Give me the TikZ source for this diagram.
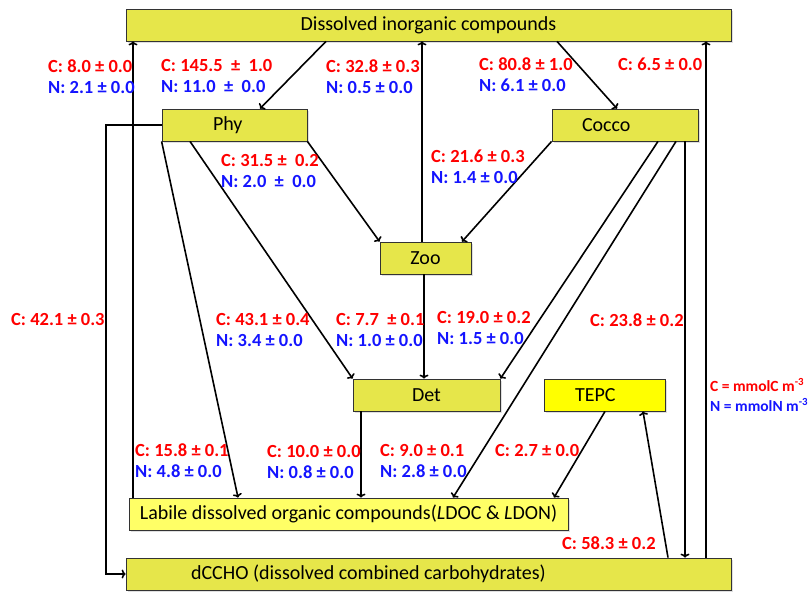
\documentclass[tikz,border=0pt]{standalone}
\usepackage[rgb]{xcolor}
\usepackage{fontspec}
\setmainfont{Carlito}
\usepackage{tikz}
\usetikzlibrary{shadows,arrows.meta}

\definecolor{boxyellow}{RGB}{230,230,74}
\definecolor{tepcyellow}{RGB}{255,255,0}
\definecolor{ldocyellow}{RGB}{255,255,102}
\definecolor{fluxred}{RGB}{255,0,0}
\definecolor{fluxblue}{RGB}{20,20,255}

\newcommand{\fluxC}[1]{\textcolor{fluxred}{#1}}
\newcommand{\fluxN}[1]{\textcolor{fluxblue}{#1}}

\begin{document}
\begin{tikzpicture}[x=1pt, y=-1pt, >={To[length=4pt,width=9pt]},
  box/.style={draw=black!80, line width=0.8pt, fill=boxyellow, minimum height=32pt,
    inner sep=0pt, font=\fontsize{20}{24}\selectfont,
    drop shadow={shadow xshift=1.5pt, shadow yshift=-1.5pt, opacity=0.25}},
  flow/.style={->, black, line width=1.6pt},
  flux/.style={anchor=west, align=left, inner sep=0pt,
    font=\bfseries\fontsize{18.5}{21}\selectfont}]

\useasboundingbox (0,0) rectangle (810,592);

%% compartments
\path
(428.5,25) node[box, minimum width=605pt] (dic) {Dissolved inorganic compounds}
(234.5,125) node[box, text width=43pt, inner xsep=51pt, align=flush left] (phy) {Phy}
(625,125) node[box, text width=86pt, inner xsep=30pt, align=flush left] (cocco) {Cocco}
(425.5,258) node[box, minimum width=91pt] (zoo) {Zoo}
(426.5,395) node[box, minimum width=147pt] (det) {Det}
(604.5,395) node[box, fill=tepcyellow, text width=59pt, inner xsep=31pt, align=flush left] (tepc) {TEPC}
(348.5,514) node[box, fill=ldocyellow, minimum width=439pt] (ldoc) {Labile dissolved organic compounds(\textit{L}DOC \& \textit{L}DON)}
(428.5,574) node[box, text width=475pt, inner xsep=65pt, align=flush left] (dccho) {dCCHO (dissolved combined carbohydrates)};

%% uptake and remineralisation
\draw[flow] (dic.south -| 326,0) -- (phy.north -| 260,0);
\draw[flow] (dic.south -| 557,0) -- (cocco.north -| 617,0);
\draw[flow] (zoo.north -| 422,0) -- (dic.south -| 422,0);
\draw[flow] (ldoc.north -| 133,0) -- (dic.south -| 133,0);
\draw[flow] (dccho.north -| 706,0) -- (dic.south -| 706,0);

%% grazing
\draw[flow] (phy.south east) -- (zoo.north west);
\draw[flow] (cocco.south west) -- (zoo.north -| 462,0);

%% detritus
\draw[flow] (phy.south -| 190,0) -- (det.north west);
\draw[flow] (zoo.south -| 424,0) -- (det.north -| 424,0);
\draw[flow] (cocco.south -| 658,0) -- (det.north east);

%% release to the dissolved pools
\draw[flow] (phy.south west) -- (ldoc.north -| 238,0);
\draw[flow] (det.south -| 361,0) -- (ldoc.north -| 361,0);
\draw[flow] (cocco.south -| 676,0) -- (ldoc.north -| 453,0);
\draw[flow] (tepc.south -| 605,0) -- (ldoc.north -| 554,0);
\draw[flow] (cocco.south -| 685,0) -- (dccho.north -| 685,0);
\draw[flow] (dccho.north -| 668,0) -- (tepc.south -| 643,0);
\draw[flow] (phy.west) -- (phy.west -| 106,0) |- (dccho.west);

%% fluxes
\path
(48,76.5) node[flux] (fLdocDic) {\fluxC{C: 8.0 ± 0.0}\\\fluxN{N: 2.1 ± 0.0}}
(161,76) node[flux] (fDicPhy) {\fluxC{C: 145.5~~±~~1.0}\\\fluxN{N: 11.0~~±~~0.0}}
(326,76.5) node[flux] (fZooDic) {\fluxC{C: 32.8 ± 0.3}\\\fluxN{N: 0.5 ± 0.0}}
(479,75) node[flux] (fDicCocco) {\fluxC{C: 80.8 ± 1.0}\\\fluxN{N: 6.1 ± 0.0}}
(618,64) node[flux] (fDcchoDic) {\fluxC{C: 6.5 ± 0.0}}
(221,170.5) node[flux] (fPhyZoo) {\fluxC{C: 31.5 ±~~0.2}\\\fluxN{N: 2.0~~±~~0.0}}
(431,167) node[flux] (fCoccoZoo) {\fluxC{C: 21.6 ± 0.3}\\\fluxN{N: 1.4 ± 0.0}}
(11,319) node[flux] (fPhyDccho) {\fluxC{C: 42.1 ± 0.3}}
(216,329.5) node[flux] (fPhyDet) {\fluxC{C: 43.1 ± 0.4}\\\fluxN{N: 3.4 ± 0.0}}
(336,329.5) node[flux] (fZooDet) {\fluxC{C: 7.7~~± 0.1}\\\fluxN{N: 1.0 ± 0.0}}
(437,328) node[flux] (fCoccoDet) {\fluxC{C: 19.0 ± 0.2}\\\fluxN{N: 1.5 ± 0.0}}
(590,320) node[flux] (fCoccoDccho) {\fluxC{C: 23.8 ± 0.2}}
(135,460.5) node[flux] (fPhyLdoc) {\fluxC{C: 15.8 ± 0.1}\\\fluxN{N: 4.8 ± 0.0}}
(267,462) node[flux] (fDetLdoc) {\fluxC{C: 10.0 ± 0.0}\\\fluxN{N: 0.8 ± 0.0}}
(380,460.5) node[flux] (fCoccoLdoc) {\fluxC{C: 9.0 ± 0.1}\\\fluxN{N: 2.8 ± 0.0}}
(495,450) node[flux] (fTepcLdoc) {\fluxC{C: 2.7 ± 0.0}}
(562,543) node[flux] (fDcchoTepc) {\fluxC{C: 58.3 ± 0.2}};

%% units
\node[flux, font=\bfseries\fontsize{15.5}{20}\selectfont] (units) at (710,395)
 {\fluxC{C = mmolC m\textsuperscript{-3}}\\\fluxN{N = mmolN m\textsuperscript{-3}}};

\end{tikzpicture}
\end{document}
